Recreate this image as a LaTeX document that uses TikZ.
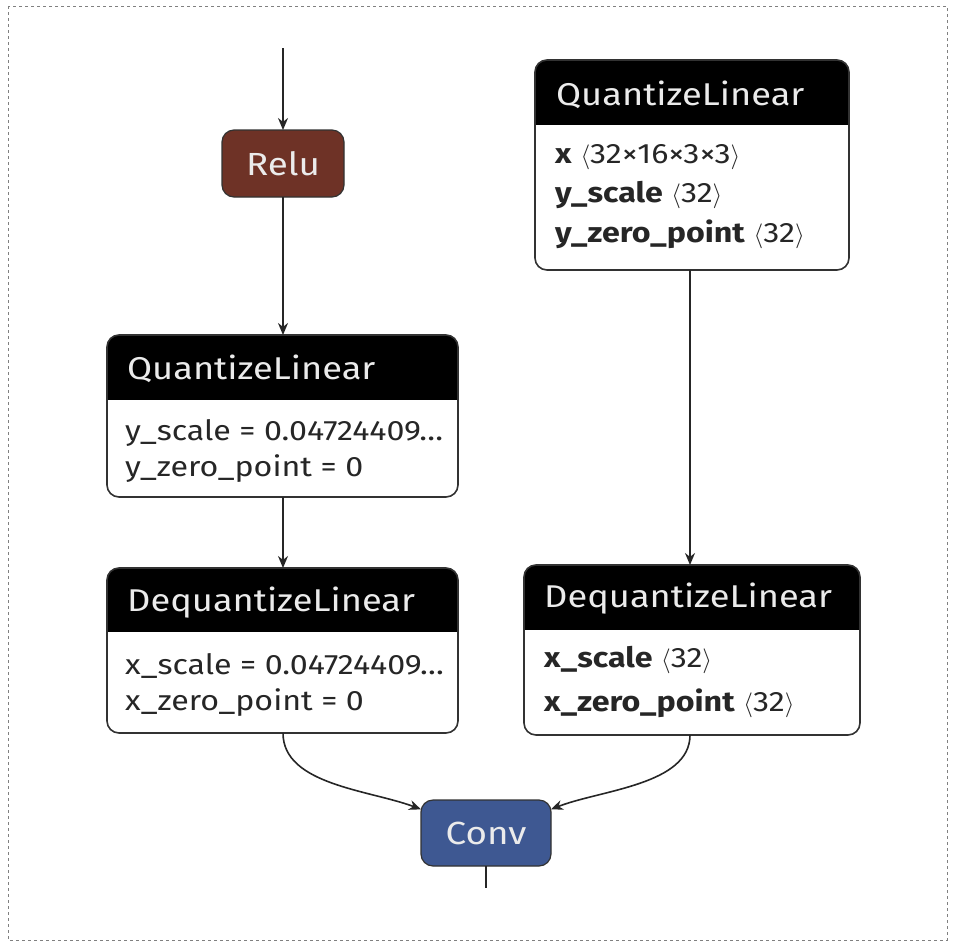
\documentclass[tikz,border=0pt]{standalone}
\usepackage{fontspec}
\setmainfont{Fira Sans}[FakeStretch=1.15]
\usetikzlibrary{arrows.meta}
\definecolor{relubrown}{RGB}{110,50,38}
\definecolor{convblue}{RGB}{62,88,146}
\definecolor{boxgray}{RGB}{50,50,50}
\definecolor{hdrtext}{RGB}{235,235,235}
\begin{document}
\begin{tikzpicture}[x=1pt,y=-1pt,
  opbox/.style={rectangle,draw=boxgray,line width=1.6pt,rounded corners=12pt,inner sep=0pt,outer sep=0pt},
  pillbox/.style={rectangle,draw=boxgray,line width=1.2pt,rounded corners=12pt,inner sep=0pt,outer sep=0pt,text=hdrtext,font=\fontsize{32}{36}\selectfont},
  hdr/.style={anchor=west,inner sep=0pt,text=hdrtext,font=\fontsize{31.5}{36}\selectfont},
  row/.style={anchor=west,inner sep=0pt,text=black!85,font=\fontsize{28}{32}\selectfont},
  edge/.style={line width=1.6pt,black!85,-{Stealth[length=12pt,width=10pt]}}
]
\useasboundingbox (0,0) rectangle (954,946);
\draw[dashed,gray,line width=1pt] (8,6) rectangle (947,940);

% boxes
\newcommand{\opnode}[6]{% name, x1,y1,x2,y2,yh
  \begin{scope}
    \clip[rounded corners=12pt] (#2,#3) rectangle (#4,#5);
    \fill[white] (#2,#3) rectangle (#4,#5);
    \fill[black] (#2,#3) rectangle (#4,#6);
  \end{scope}
  \node[opbox,minimum width=#4-#2,minimum height=#5-#3] (#1) at ({(#2+#4)/2},{(#3+#5)/2}) {};
}
\opnode{ql1}{107}{335}{458}{497}{400}
\opnode{dq1}{107}{568}{458}{733}{632}
\opnode{ql2}{535}{60}{849}{270}{125}
\opnode{dq2}{524}{565}{860}{735}{630}

\node[pillbox,fill=relubrown,minimum width=122pt,minimum height=67pt] (relu) at (283,163.5) {Relu};
\node[pillbox,fill=convblue,minimum width=130pt,minimum height=66pt] (conv) at (486,833) {Conv};

% headers
\node[hdr] (ql1t) at (127,369) {QuantizeLinear};
\node[hdr] (dq1t) at (127,603) {DequantizeLinear};
\node[hdr] (ql2t) at (556,95) {QuantizeLinear};
\node[hdr] (dq2t) at (544,599) {DequantizeLinear};

% rows
\node[row] (ql1a) at (125,433) {y\_scale = 0.04724409…};
\node[row] (ql1b) at (125,469) {y\_zero\_point = 0};
\node[row] (dq1a) at (125,666) {x\_scale = 0.04724409…};
\node[row] (dq1b) at (125,703) {x\_zero\_point = 0};
\node[row] (ql2a) at (555,157) {\textbf{x}\ \(\langle\)32×16×3×3\(\rangle\)};
\node[row] (ql2b) at (555,195) {\textbf{y\_scale}\ \(\langle\)32\(\rangle\)};
\node[row] (ql2c) at (555,234) {\textbf{y\_zero\_point}\ \(\langle\)32\(\rangle\)};
\node[row] (dq2a) at (544,660) {\textbf{x\_scale}\ \(\langle\)32\(\rangle\)};
\node[row] (dq2b) at (544,703) {\textbf{x\_zero\_point}\ \(\langle\)32\(\rangle\)};

% connectors
\coordinate (in) at (283,48);
\coordinate (out) at (486,888);
\draw[edge] (in) -- (relu.north);
\draw[edge] (relu.south) -- (relu.south |- ql1.north);
\draw[edge] (ql1.south -| relu.south) -- (relu.south |- dq1.north);
\draw[edge] (690,270) -- (690,565);
\draw[edge] (283,733) .. controls (283,785) and (370,790) .. (conv.160);
\draw[edge] (690,735) .. controls (690,785) and (600,790) .. (conv.20);
\draw[line width=1.6pt,black!85] (conv.south) -- (out);
\end{tikzpicture}
\end{document}
